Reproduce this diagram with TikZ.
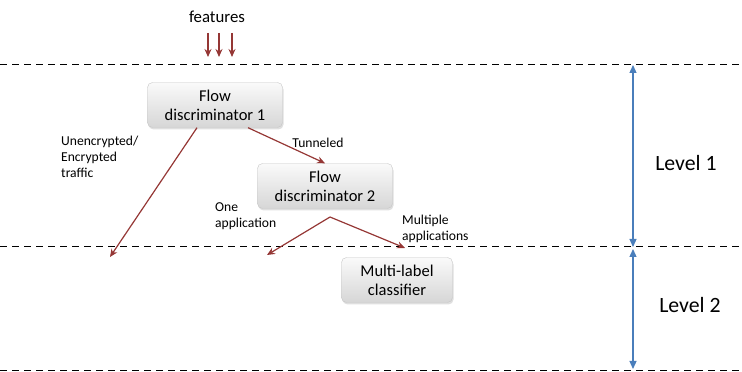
\documentclass[tikz,border=0pt]{standalone}
\usepackage{fontspec}
\setmainfont{Carlito}
\usetikzlibrary{arrows.meta, positioning, shadows}
\definecolor{flowred}{RGB}{149, 55, 53}
\definecolor{levelblue}{RGB}{74, 126, 187}

\tikzset{
  block/.style={draw=gray!45, rounded corners=5pt, top color=gray!4, bottom color=gray!32,
                minimum height=45pt, align=center, inner sep=2pt,
                font=\fontsize{16.5}{19.3}\selectfont,
                drop shadow={opacity=0.25, shadow xshift=1pt, shadow yshift=-2pt}},
  flow/.style={draw=flowred, line width=1.2pt, -{Stealth[length=8pt, width=7pt]}},
  level/.style={draw=levelblue, line width=1.3pt,
                {Triangle[length=8pt, width=7pt]}-{Triangle[length=8pt, width=7pt]}},
  border/.style={dash pattern=on 7pt off 5pt, line width=1pt},
  lbl/.style={font=\fontsize{13.6}{16}\selectfont, align=left, inner sep=0pt}
}

\begin{document}
\begin{tikzpicture}[x=1pt, y=1pt]
  \useasboundingbox (0,0) rectangle (742,372);

  % Level borders
  \draw[border] (0,307) -- (742,307);
  \draw[border] (0,125) -- (742,125);
  \draw[border] (0,1) -- (742,1);

  % Input features
  \node[font=\fontsize{16.8}{19}\selectfont] (feat) at (217,355) {features};
  \foreach \x [count=\i] in {208,219,232} {
    \coordinate (fin\i) at (\x,339);
    \coordinate (fout\i) at (\x,315);
    \draw[flow] (fin\i) -- (fout\i);
  }

  % Blocks
  \node[block, minimum width=135pt] (fd1) at (215,267) {Flow\\discriminator 1};
  \node[block, minimum width=135pt] (fd2) at (325,186) {Flow\\discriminator 2};
  \node[block, minimum width=111pt] (mlc) at (397,92) {Multi-label\\classifier};

  % Free ends
  \coordinate (enc) at (110,115);
  \coordinate (fd2out) at (330,155);
  \coordinate (one) at (267,117);
  \coordinate (multi) at (405,124);

  % Level 1
  \draw[flow] ([xshift=-18pt]fd1.south) -- (enc);
  \draw[flow] ([xshift=33pt]fd1.south) -- (fd2.north);
  \draw[flow] (fd2out) -- (one);
  \draw[flow] (fd2out) -- (multi);

  \node[lbl, anchor=west] (enclbl) at (61,215) {Unencrypted/\\Encrypted\\traffic};
  \node[lbl] (tunlbl) at (318,229) {Tunneled};
  \node[lbl, anchor=west] (onelbl) at (215,156) {One\\application};
  \node[lbl, anchor=west] (multilbl) at (402,143) {Multiple\\applications};

  % Levels
  \coordinate (lv0) at (633,307);
  \coordinate (lv1) at (633,125);
  \coordinate (lv1b) at (633,123);
  \coordinate (lv2) at (633,3);
  \draw[level] (lv0) -- (lv1);
  \draw[level] (lv1b) -- (lv2);
  \node[font=\fontsize{21.8}{24}\selectfont] (lvl1) at (686,209) {Level 1};
  \node[font=\fontsize{21.8}{24}\selectfont] (lvl2) at (690,67) {Level 2};
\end{tikzpicture}
\end{document}
